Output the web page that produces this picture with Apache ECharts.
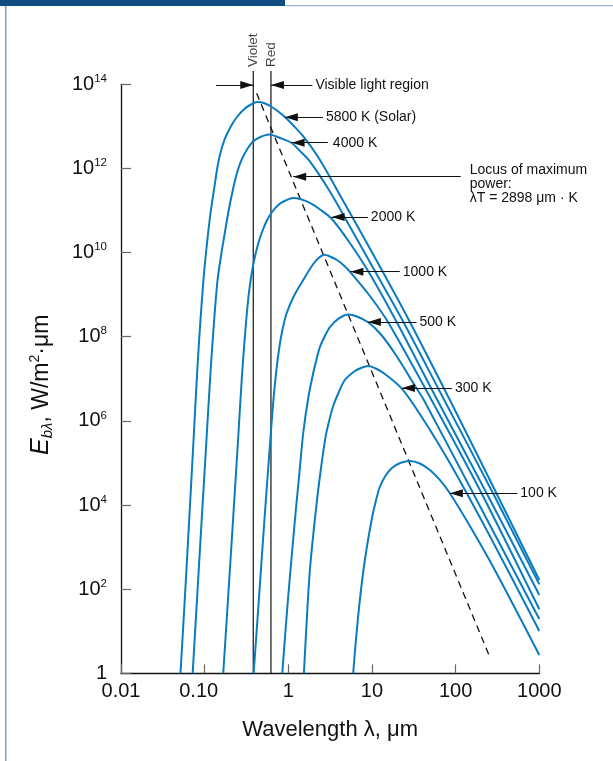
<!DOCTYPE html>
<html><head><meta charset="utf-8">
<script src="https://cdn.jsdelivr.net/npm/echarts@6/dist/echarts.min.js"></script>
<style>html,body{margin:0;padding:0;background:#fff}#c{width:613px;height:761px}</style>
</head><body><div id="c"></div>
<script>
const FONT = '"Liberation Sans", Arial, Helvetica, sans-serif';

// Wavelength (um) / emissive power pairs
const curve5800 = [[0.0514,1],[0.0578,55.2],[0.0653,4.41e3],[0.0731,2.67e5],[0.0816,1.62e7],[0.0891,2.50e8],[0.0967,2.23e9],[0.1031,8.77e9],[0.1104,3.09e10],[0.1189,1.03e11],[0.1302,3.44e11],[0.1403,9.18e11],[0.1523,2.12e12],[0.1724,4.75e12],[0.2006,9.16e12],[0.2431,1.67e13],[0.303,2.66e13],[0.3575,3.31e13],[0.4274,3.80e13],[0.511,3.60e13],[0.603,3.05e13],[0.731,2.39e13],[0.910,1.67e13],[1.135,1.08e13],[1.494,5.91e12],[2.39,1.59e12],[4.13,2.34e11],[7.16,3.35e10],[13.5,3.46e9],[28.4,2.24e8],[85.3,3.13e6],[294,2.28e4],[1000,165]];
const curve4000 = [[0.0719,1],[0.0809,55.2],[0.0921,4.41e3],[0.1042,2.67e5],[0.1179,1.62e7],[0.1299,2.50e8],[0.1426,2.23e9],[0.1574,8.77e9],[0.170,2.22e10],[0.1941,1.03e11],[0.2197,3.44e11],[0.2452,8.24e11],[0.2767,1.62e12],[0.3184,2.75e12],[0.3807,4.42e12],[0.4642,5.59e12],[0.5863,6.41e12],[0.794,5.30e12],[1.095,4.03e12],[1.376,2.61e12],[1.81,1.47e12],[3.14,2.83e11],[5.44,4.17e10],[10.5,4.07e9],[23.4,2.37e8],[71.0,3.50e6],[280,1.90e4],[1000,130]];
const curve2000 = [[0.1668,1],[0.1898,55.2],[0.2184,4.41e3],[0.2486,2.67e5],[0.2821,1.62e7],[0.3141,2.50e8],[0.3412,1.29e9],[0.386,5.98e9],[0.432,1.52e10],[0.4852,3.09e10],[0.5505,5.64e10],[0.6387,9.23e10],[0.7595,1.36e11],[0.926,1.73e11],[1.144,1.99e11],[1.414,1.85e11],[1.81,1.51e11],[2.39,1.06e11],[3.32,6.29e10],[5.44,1.69e10],[9.44,3.10e9],[19.8,2.20e8],[60.4,3.13e6],[244,1.64e4],[1000,72.6]];
const curve1000 = [[0.385,1],[0.4442,55.2],[0.518,4.41e3],[0.6028,2.67e5],[0.6637,3.13e6],[0.7207,1.62e7],[0.783,5.80e7],[0.8503,1.45e8],[0.9543,3.61e8],[1.167,9.29e8],[1.507,2.23e9],[1.968,5.21e9],[2.320,7.52e9],[2.699,8.87e9],[3.14,8.08e9],[3.81,6.67e9],[4.616,4.93e9],[5.44,3.52e9],[9.44,9.29e8],[15.6,2.20e8],[51.5,3.13e6],[204,1.90e4],[1000,33.2]];
const curve500 = [[0.846,1],[0.989,55.2],[1.199,4.41e3],[1.346,4.90e4],[1.507,5.15e5],[1.739,3.70e6],[2.022,1.62e7],[2.196,3.13e7],[2.386,5.70e7],[2.736,1.04e8],[3.14,1.70e8],[4.023,2.72e8],[5.196,3.38e8],[6.60,3.03e8],[9.01,2.20e8],[12.8,1.13e8],[19.3,3.68e7],[34.1,5.95e6],[41.7,3.13e6],[162,1.90e4],[1000,19.5]];
const curve300 = [[1.536,1],[1.62,7.41],[1.81,285],[2.18,1.10e4],[2.452,7.18e4],[2.79,4.21e5],[3.073,9.93e5],[3.44,2.26e6],[4.023,4.86e6],[4.74,9.37e6],[6.25,1.53e7],[7.37,1.81e7],[8.93,2.02e7],[11.1,1.76e7],[14.3,1.30e7],[22.6,5.95e6],[37.3,1.46e6],[85.3,9.97e4],[256,1.84e3],[1000,10.1]];
const curve100 = [[5.96,1],[6.43,6.19],[7.16,55.2],[8.22,493],[9.89,4.41e3],[11.04,1.18e4],[12.4,2.68e4],[14.46,4.90e4],[17.3,7.59e4],[22.1,1.01e5],[28.4,1.11e5],[37.3,9.70e4],[49.2,6.80e4],[64.7,3.94e4],[85.3,1.90e4],[148,3.17e3],[294,285],[1000,2.72]];
const curves = [curve5800, curve4000, curve2000, curve1000, curve500, curve300, curve100];
const temps = [5800, 4000, 2000, 1000, 500, 300, 100];

// Locus of maximum power (dashed)
const locus = [[0.418,6.12e13],[256,2.44]];

// Visible light boundaries (um) and their labels
const visibleBounds = [0.381, 0.620];
const visibleNames = ['Violet', 'Red'];
const visibleRange = [1, 2.07e14];

// Annotation arrows: [tail wavelength, tip wavelength, power], text
const arrowTexts = ['', 'Visible light region', '5800 K (Solar)', '4000 K', '\nLocus of maximum\npower:\n\u03bbT = 2898 \u03bcm \u00b7 K', '2000 K', '1000 K', '500 K', '300 K', '100 K'];
const arrowPoints = [[0.1365,0.381,9.6e13],[1.94,0.620,9.6e13],[2.59,0.910,1.64e13],[2.97,1.095,4.09e12],[115,1.144,6.37e11],[8.93,3.29,7.02e10],[21.5,5.52,3.52e9],[34.1,8.93,2.24e8],[90.2,22.8,6.05e6],[546,85.3,1.90e4]];

// Axis ticks
const xTicks = [0.01, 0.1, 1, 10, 100, 1000];
const xTickLabels = ['0.01', '0.10', '1', '10', '100', '1000'];
const yTicks = [1, 1e2, 1e4, 1e6, 1e8, 1e10, 1e12, 1e14];
const yTickExponents = ['', '2', '4', '6', '8', '10', '12', '14'];

function idxOf(arr, v) {
  return arr.findIndex(t => Math.abs(Math.log10(t) - Math.log10(v)) < 1e-6);
}

const BLUE = '#0b7bc1';
const series = curves.map((c, i) => ({
  name: temps[i] + ' K', type: 'line', data: c, symbol: 'none', smooth: 0.3,
  lineStyle: { color: BLUE, width: 2 }, z: 3, emphasis: { disabled: true }, clip: true
}));

series.push({
  type: 'line', data: locus, symbol: 'none', clip: false, z: 2,
  lineStyle: { color: '#111', width: 1.3, type: [7, 5] }, emphasis: { disabled: true },
  markLine: {
    silent: true, symbol: ['none', 'triangle'], symbolSize: [8, 13], symbolOffset: [0, [0, 6.5]],
    lineStyle: { color: '#111', width: 1.2, type: 'solid' },
    itemStyle: { color: '#111' },
    label: { show: true, position: 'start', distance: 3, color: '#111', fontSize: 14, fontFamily: FONT, lineHeight: 14 },
    emphasis: { disabled: true },
    data: arrowPoints.map((p, i) => {
      const lab = arrowTexts[i] ? { show: true, formatter: arrowTexts[i] } : { show: false };
      if (i === 4) { lab.distance = 9; }
      if (i === 3) { lab.distance = 5; }
      return [{ coord: [p[0], p[2]], label: lab }, { coord: [p[1], p[2]] }];
    })
  }
});

visibleBounds.forEach(v => {
  series.push({
    type: 'line', data: [[v, visibleRange[0]], [v, visibleRange[1]]], symbol: 'none', clip: false, z: 2,
    lineStyle: { color: '#111', width: 1.2 }, emphasis: { disabled: true }
  });
});

series.push({
  type: 'scatter', symbolSize: 0, clip: false, silent: true,
  data: visibleBounds.map((v, i) => [v, visibleRange[1], visibleNames[i]]),
  label: { show: true, position: 'top', distance: 4, rotate: 90, align: 'left', verticalAlign: 'middle',
    formatter: p => p.value[2], color: '#111', fontSize: 13.5, fontFamily: FONT }
});

const option = {
  animation: false,
  backgroundColor: '#fff',
  textStyle: { fontFamily: FONT },
  graphic: [
    { type: 'rect', shape: { x: 0, y: 0, width: 285, height: 6 }, style: { fill: '#0f4c81' }, silent: true },
    { type: 'rect', shape: { x: 285, y: 5, width: 328, height: 1.2 }, style: { fill: '#9bb7d4' }, silent: true },
    { type: 'rect', shape: { x: 5, y: 6, width: 1.5, height: 755 }, style: { fill: '#7f9fc4' }, silent: true }
  ],
  grid: { left: 121, top: 84.3, width: 418.3, height: 589 },
  xAxis: {
    type: 'log', logBase: 10, min: 0.01, max: 1000,
    axisLine: { lineStyle: { color: '#111', width: 1.3 } },
    axisTick: { show: true, inside: true, length: 9, customValues: xTicks, lineStyle: { color: '#666', width: 1.2 } },
    axisLabel: {
      customValues: xTicks, margin: 8, fontSize: 20, color: '#111', fontFamily: FONT,
      formatter: v => { const i = idxOf(xTicks, v); if (i < 0) return ''; return i === 1 ? '{sh|' + xTickLabels[i] + '}' : xTickLabels[i]; },
      rich: { sh: { fontSize: 20, color: '#111', fontFamily: FONT, padding: [0, 12, 0, 0] } }
    },
    splitLine: { show: false }, minorTick: { show: false },
    name: 'Wavelength \u03bb, \u03bcm', nameLocation: 'middle', nameGap: 46,
    nameTextStyle: { fontSize: 22, color: '#111', fontFamily: FONT }
  },
  yAxis: {
    type: 'log', logBase: 10, min: 1, max: 1e14,
    axisLine: { lineStyle: { color: '#111', width: 1.3 } },
    axisTick: { show: true, inside: true, length: 10, customValues: yTicks, lineStyle: { color: '#666', width: 1.2 } },
    axisLabel: {
      customValues: yTicks, margin: 14, color: '#111', fontFamily: FONT,
      formatter: v => { const i = idxOf(yTicks, v); if (i < 0) return ''; return i === 0 ? '{b|1}' : '{b|10}{s|' + yTickExponents[i] + '}'; },
      rich: {
        b: { fontSize: 20, lineHeight: 23, color: '#111', fontFamily: FONT },
        s: { fontSize: 11.5, lineHeight: 11, verticalAlign: 'top', color: '#111', fontFamily: FONT }
      }
    },
    splitLine: { show: false }, minorTick: { show: false },
    name: '{e|E}{sub|b\u03bb}{t|, W/m}{sup|2}{t|\u00b7\u03bcm}',
    nameLocation: 'middle', nameRotate: 90, nameGap: 66,
    nameTextStyle: {
      padding: [0, 12, 0, 0],
      rich: {
        e: { fontSize: 25, fontStyle: 'italic', color: '#111', fontFamily: FONT, lineHeight: 27 },
        sub: { fontSize: 15, fontStyle: 'italic', color: '#111', fontFamily: FONT, lineHeight: 15, verticalAlign: 'bottom' },
        t: { fontSize: 23, color: '#111', fontFamily: FONT, lineHeight: 27 },
        sup: { fontSize: 14, color: '#111', fontFamily: FONT, lineHeight: 14, verticalAlign: 'top' }
      }
    }
  },
  series: series
};

const chart = echarts.init(document.getElementById('c'), null, { renderer: 'canvas' });
chart.setOption(option);
</script>
</body></html>
